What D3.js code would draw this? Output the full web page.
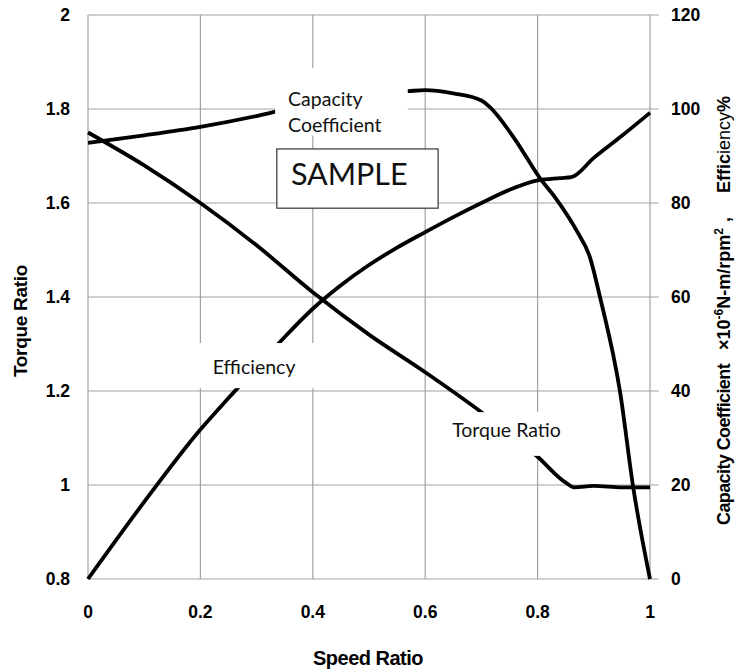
<!DOCTYPE html>
<html>
<head>
<meta charset="utf-8">
<script src="https://cdn.jsdelivr.net/npm/d3@7"></script>
<style>
  body { margin: 0; background: #fff; }
  text { font-family: "Liberation Sans", Arial, sans-serif; }
  .note { font-family: Lato, "Open Sans", sans-serif; fill: #111; }
</style>
</head>
<body>
<div id="chart"></div>
<script>
// data
const torqueX = [0, 0.1, 0.2, 0.3, 0.4, 0.5, 0.6, 0.7, 0.8, 0.85, 0.865, 0.9, 0.95, 1.0];
const torqueY = [1.75, 1.68, 1.60, 1.51, 1.41, 1.32, 1.24, 1.155, 1.06, 1.005, 0.995, 0.998, 0.995, 0.995];

const effX = [0, 0.1, 0.2, 0.25, 0.3, 0.35, 0.4, 0.45, 0.5, 0.55, 0.6, 0.65, 0.7, 0.75, 0.8, 0.84, 0.86, 0.9, 0.95, 1.0];
const effY = [0, 16.4, 31.8, 38.5, 45, 51.5, 57.5, 62.5, 66.8, 70.5, 73.8, 77, 80, 82.8, 84.8, 85.3, 85.5, 89.6, 94.3, 99.2];

const capX = [0, 0.1, 0.2, 0.3, 0.4, 0.5, 0.57, 0.6, 0.65, 0.7, 0.715, 0.76, 0.804, 0.833, 0.87, 0.893, 0.911, 0.947, 0.97, 1.0];
const capY = [92.8, 94.4, 96.2, 98.5, 101.3, 103.3, 103.8, 104, 103.3, 101.8, 100.4, 93.5, 85.3, 80.9, 74, 68.5, 60, 39.6, 19.6, 0];

const xTicks = [0, 0.2, 0.4, 0.6, 0.8, 1];
const leftTicks = [0.8, 1, 1.2, 1.4, 1.6, 1.8, 2];
const rightTicks = [0, 20, 40, 60, 80, 100, 120];

// annotation boxes in data units (x, left axis)
const notes = [
  { lines: ["Capacity", "Coefficient"], box: [0.333, 0.569, 1.887, 1.743], tx: 0.356, ty: [1.806, 1.751] },
  { lines: ["Efficiency"], box: [0.173, 0.422, 1.302, 1.206], tx: 0.222, ty: [1.236] },
  { lines: ["Torque Ratio"], box: [0.626, 0.875, 1.155, 1.062], tx: 0.648, ty: [1.102] }
];

const width = 745, height = 670;
const margin = { left: 88, right: 95, top: 15, bottom: 91 };

const svg = d3.select("#chart").append("svg")
  .attr("width", width)
  .attr("height", height);

const x = d3.scaleLinear().domain([0, 1]).range([margin.left, width - margin.right]);
const yL = d3.scaleLinear().domain([0.8, 2]).range([height - margin.bottom, margin.top]);
const yR = d3.scaleLinear().domain([0, 120]).range([height - margin.bottom, margin.top]);

const grid = "#a2a2a2";

// gridlines
svg.append("g").selectAll("line.h")
  .data(leftTicks)
  .join("line")
  .attr("x1", x(0)).attr("x2", x(1) + 9)
  .attr("y1", d => yL(d)).attr("y2", d => yL(d))
  .attr("stroke", grid).attr("stroke-width", 1.2);

svg.append("g").selectAll("line.v")
  .data(xTicks)
  .join("line")
  .attr("x1", d => x(d)).attr("x2", d => x(d))
  .attr("y1", yL(2)).attr("y2", yL(0.8))
  .attr("stroke", grid).attr("stroke-width", 1.2);

// curves
const series = [
  { xs: torqueX, ys: torqueY, y: yL },
  { xs: effX, ys: effY, y: yR },
  { xs: capX, ys: capY, y: yR }
];

series.forEach(s => {
  const pts = s.xs.map((v, i) => [v, s.ys[i]]);
  const line = d3.line()
    .x(d => x(d[0]))
    .y(d => s.y(d[1]))
    .curve(d3.curveMonotoneX);
  svg.append("path")
    .datum(pts)
    .attr("d", line)
    .attr("fill", "none")
    .attr("stroke", "#000")
    .attr("stroke-width", 3.8)
    .attr("stroke-linejoin", "round");
});

// annotation labels with white backgrounds
notes.forEach(n => {
  svg.append("rect")
    .attr("x", x(n.box[0]))
    .attr("y", yL(n.box[2]))
    .attr("width", x(n.box[1]) - x(n.box[0]))
    .attr("height", yL(n.box[3]) - yL(n.box[2]))
    .attr("fill", "#fff");
  n.lines.forEach((t, i) => {
    svg.append("text")
      .attr("class", "note")
      .attr("x", x(n.tx))
      .attr("y", yL(n.ty[i]))
      .style("font-size", "19.5px")
      .text(t);
  });
});

// SAMPLE box
svg.append("rect")
  .attr("x", x(0.336)).attr("y", yL(1.715))
  .attr("width", x(0.623) - x(0.336))
  .attr("height", yL(1.589) - yL(1.715))
  .attr("fill", "#fff")
  .attr("stroke", "#333")
  .attr("stroke-width", 1.2);
svg.append("text")
  .attr("class", "note")
  .attr("x", x(0.361)).attr("y", yL(1.638))
  .style("font-size", "30.5px")
  .text("SAMPLE");

// tick labels
svg.append("g").selectAll("text")
  .data(leftTicks)
  .join("text")
  .attr("x", 70).attr("y", d => yL(d))
  .attr("dy", "0.35em")
  .attr("text-anchor", "end")
  .style("font-size", "17.5px").style("font-weight", "bold")
  .text(d => d);

svg.append("g").selectAll("text")
  .data(rightTicks)
  .join("text")
  .attr("x", 671).attr("y", d => yR(d))
  .attr("dy", "0.35em")
  .style("font-size", "17.5px").style("font-weight", "bold")
  .text(d => d);

svg.append("g").selectAll("text")
  .data(xTicks)
  .join("text")
  .attr("x", d => x(d)).attr("y", 612)
  .attr("dy", "0.35em")
  .attr("text-anchor", "middle")
  .style("font-size", "17.5px").style("font-weight", "bold")
  .text(d => d);

// axis titles
svg.append("text")
  .attr("x", 368).attr("y", 665)
  .attr("text-anchor", "middle")
  .style("font-size", "20px").style("font-weight", "bold")
  .style("letter-spacing", "-0.5px")
  .text("Speed Ratio");

svg.append("text")
  .attr("transform", "translate(27,321) rotate(-90)")
  .attr("text-anchor", "middle")
  .style("font-size", "19px").style("font-weight", "bold")
  .style("letter-spacing", "-0.3px")
  .text("Torque Ratio");

const rt = svg.append("text")
  .attr("transform", "translate(730,525) rotate(-90)")
  .style("font-size", "18px").style("font-weight", "bold");
rt.append("tspan").text("Capacity Coefficient").style("letter-spacing", "-0.6px");
rt.append("tspan").attr("dx", 14).text("×10");
rt.append("tspan").attr("dy", -7).style("font-size", "12px").text("-6");
rt.append("tspan").attr("dy", 7).text("N-m/rpm");
rt.append("tspan").attr("dy", -7).style("font-size", "12px").text("2");
rt.append("tspan").attr("dy", 7).attr("dx", 6).text(",");
rt.append("tspan").attr("dx", 24).text("Effic");
rt.append("tspan").style("font-weight", "normal").text("iency");
rt.append("tspan").text("%");
</script>
</body>
</html>
